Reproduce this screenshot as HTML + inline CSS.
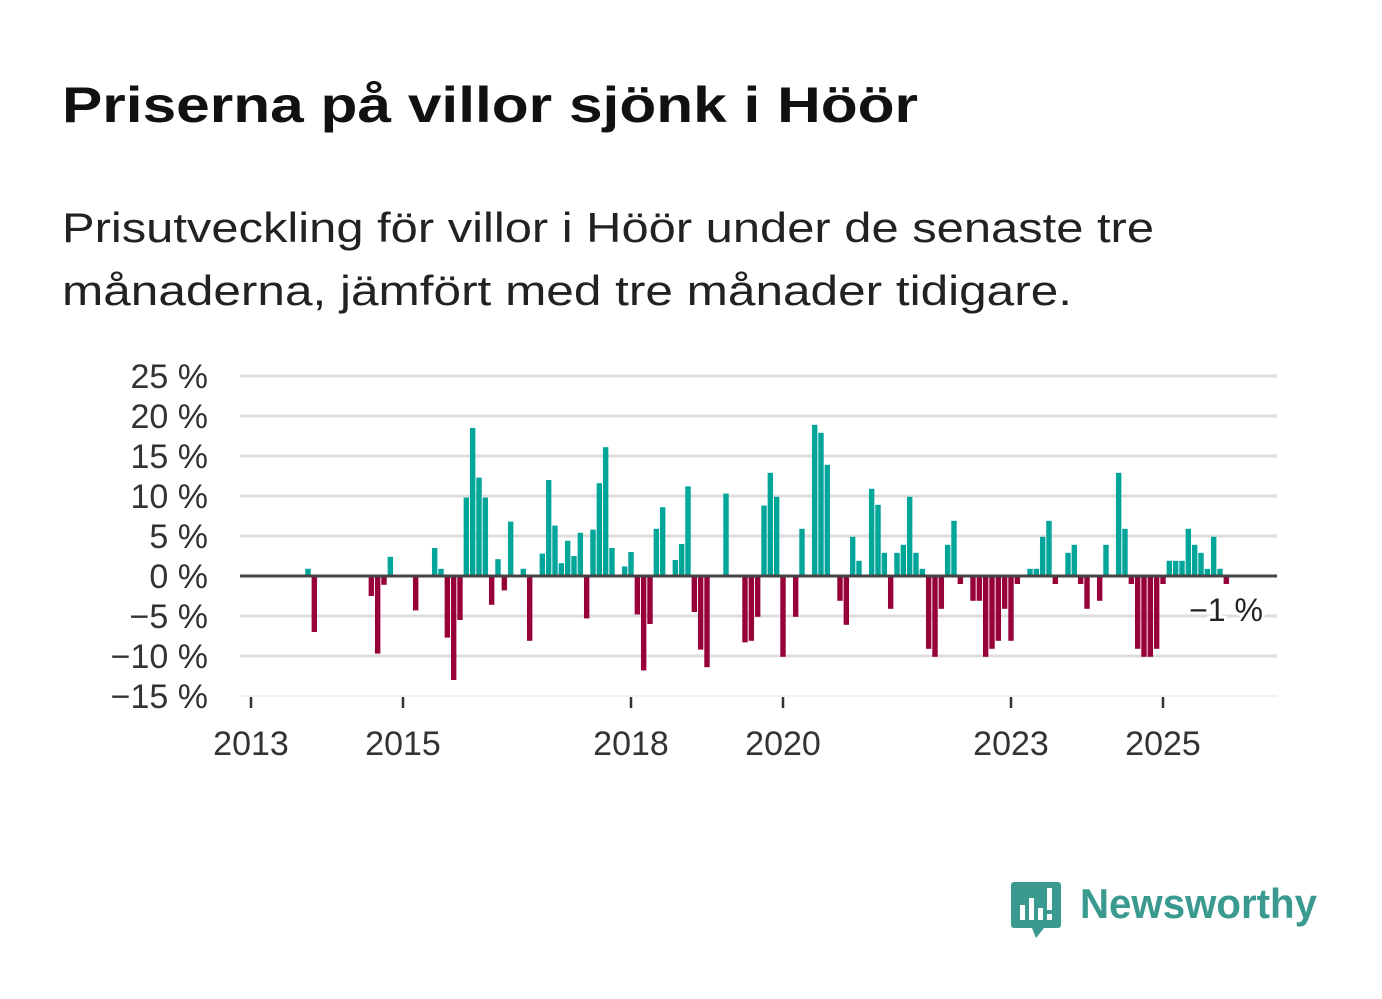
<!DOCTYPE html>
<html><head><meta charset="utf-8"><style>
body{margin:0;background:#fff;}
svg{display:block;font-family:"Liberation Sans","DejaVu Sans",sans-serif;}
</style></head><body>
<svg id="chart" width="1382" height="999" viewBox="0 0 1382 999">
<text x="62" y="122" font-size="50" font-weight="bold" fill="#111" textLength="856" lengthAdjust="spacingAndGlyphs">Priserna på villor sjönk i Höör</text>
<text x="62" y="242" font-size="42" fill="#222" textLength="1092" lengthAdjust="spacingAndGlyphs">Prisutveckling för villor i Höör under de senaste tre</text>
<text x="62" y="305" font-size="42" fill="#222" textLength="1010" lengthAdjust="spacingAndGlyphs">månaderna, jämfört med tre månader tidigare.</text>
<g id="grid"></g><g id="bars"></g><g id="axes"></g>
<g>
<path d="M1014 882 h44 a3 3 0 0 1 3 3 v40 a3 3 0 0 1 -3 3 h-14 l-8 10 l-4 -10 h-18 a3 3 0 0 1 -3 -3 v-40 a3 3 0 0 1 3 -3z" fill="#3a9a8f"/>
<rect x="1020" y="905" width="5" height="15" fill="#fff"/><rect x="1029" y="898" width="5" height="22" fill="#fff"/><rect x="1038" y="908" width="5" height="12" fill="#fff"/><rect x="1047" y="888" width="5" height="22" fill="#fff"/><rect x="1047" y="914" width="5" height="6" fill="#fff"/>
<text x="1080" y="918" font-size="42" font-weight="bold" fill="#3a9a8f" textLength="237" lengthAdjust="spacingAndGlyphs">Newsworthy</text>
</g>
</svg>
<script>
const months = ["2013-10","2013-11","2014-08","2014-09","2014-10","2014-11","2015-03","2015-06","2015-07","2015-08","2015-09","2015-10","2015-11","2015-12","2016-01","2016-02","2016-03","2016-04","2016-05","2016-06","2016-08","2016-09","2016-11","2016-12","2017-01","2017-02","2017-03","2017-04","2017-05","2017-06","2017-07","2017-08","2017-09","2017-10","2017-12","2018-01","2018-02","2018-03","2018-04","2018-05","2018-06","2018-08","2018-09","2018-10","2018-11","2018-12","2019-01","2019-04","2019-07","2019-08","2019-09","2019-10","2019-11","2019-12","2020-01","2020-03","2020-04","2020-06","2020-07","2020-08","2020-10","2020-11","2020-12","2021-01","2021-03","2021-04","2021-05","2021-06","2021-07","2021-08","2021-09","2021-10","2021-11","2021-12","2022-01","2022-02","2022-03","2022-04","2022-05","2022-07","2022-08","2022-09","2022-10","2022-11","2022-12","2023-01","2023-02","2023-04","2023-05","2023-06","2023-07","2023-08","2023-10","2023-11","2023-12","2024-01","2024-03","2024-04","2024-06","2024-07","2024-08","2024-09","2024-10","2024-11","2024-12","2025-01","2025-02","2025-03","2025-04","2025-05","2025-06","2025-07","2025-08","2025-09","2025-10","2025-11"];
const values = [0.9,-7,-2.5,-9.7,-1.1,2.4,-4.3,3.5,0.9,-7.7,-13,-5.5,9.8,18.5,12.3,9.8,-3.6,2.1,-1.8,6.8,0.9,-8.1,2.8,12,6.3,1.6,4.4,2.5,5.4,-5.3,5.8,11.6,16.1,3.5,1.2,3,-4.8,-11.8,-6,5.9,8.6,2,4,11.2,-4.5,-9.2,-11.4,10.3,-8.3,-8.1,-5.1,8.8,12.9,9.9,-10.1,-5.1,5.9,18.9,17.9,13.9,-3.1,-6.1,4.9,1.9,10.9,8.9,2.9,-4.1,2.9,3.9,9.9,2.9,0.9,-9.1,-10.1,-4.1,3.9,6.9,-1,-3.1,-3.1,-10.1,-9.1,-8.1,-4.1,-8.1,-1,0.9,0.9,4.9,6.9,-1,2.9,3.9,-1,-4.1,-3.1,3.9,12.9,5.9,-1,-9.1,-10.1,-10.1,-9.1,-1,1.9,1.9,1.9,5.9,3.9,2.9,0.9,4.9,0.9,-1];
const yTicks = [25,20,15,10,5,0,-5,-10,-15];
const xTickYears = [2013,2015,2018,2020,2023,2025];
const lastLabel = "−1 %";

const NS="http://www.w3.org/2000/svg";
const X0=240,X1=1277;
function y(v){return 576 - v*8;}
function xm(m){const [yy,mm]=m.split("-").map(Number);return 251+((yy-2013)*12+(mm-1))*76/12;}
function xy(yr){return 251+(yr-2013)*76;}
function mk(tag,attrs,parent){const e=document.createElementNS(NS,tag);for(const k in attrs)e.setAttribute(k,attrs[k]);parent.appendChild(e);return e;}
const grid=document.getElementById('grid'),bars=document.getElementById('bars'),axes=document.getElementById('axes');
yTicks.forEach(t=>{
  if(t!==0){const l=mk('line',{x1:X0,x2:X1,y1:y(t),y2:y(t),stroke:t===-15?'#eee':'#ddd','stroke-width':t===-15?1.5:3},grid);
  
  }
  const tx=mk('text',{x:208,y:y(t)+12,'text-anchor':'end','font-size':34,fill:'#333'},axes);
  tx.textContent=(t<0?'−'+(-t):t)+' %';
  
  
});
months.forEach((m,i)=>{
  const v=values[i],cx=xm(m);
  const r=mk('rect',{x:cx-2.7,width:5.4,y:v>=0?y(v):y(0),height:Math.abs(v)*8,fill:v>=0?'#00a699':'#98003a'},bars);
  
  
});
const zl=mk('line',{x1:X0,x2:X1,y1:y(0),y2:y(0),stroke:'#444','stroke-width':3},axes);


xTickYears.forEach(yr=>{
  const t=mk('line',{x1:xy(yr),x2:xy(yr),y1:697,y2:708,stroke:'#333','stroke-width':2.5},axes);
  
  
  const tx=mk('text',{x:xy(yr),y:755,'text-anchor':'middle','font-size':34,fill:'#333'},axes);
  tx.textContent=yr;
  
  
});
const ll=mk('text',{x:1226,y:621,'text-anchor':'middle','font-size':32,fill:'#222',stroke:'#fff','stroke-width':6,'paint-order':'stroke'},axes);
ll.textContent=lastLabel;


</script>
</body></html>
